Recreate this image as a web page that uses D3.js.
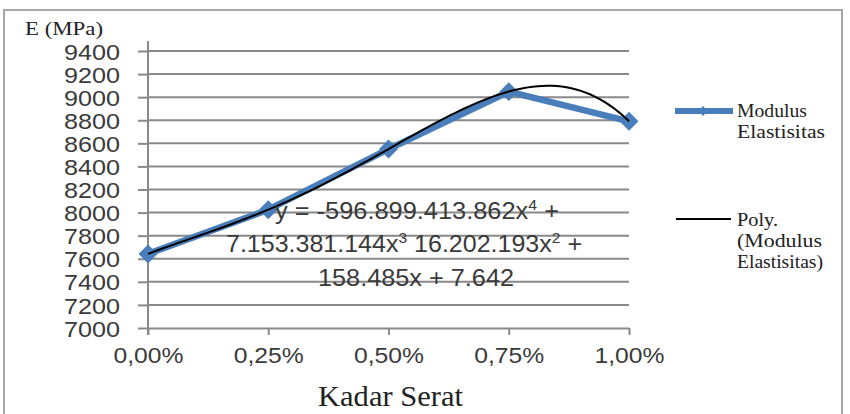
<!DOCTYPE html>
<html lang="en">
<head>
    <meta charset="UTF-8">
    <title>Modulus Elastisitas</title>
    <style>
        body { margin: 0; background: #fff; }
    </style>
</head>
<body>
    <script src="https://d3js.org/d3.v7.min.js"></script>
    <div id="chart"></div>
    <script>
    // data
    const categories = ["0,00%", "0,25%", "0,50%", "0,75%", "1,00%"]
    const fiberContent = [0, 0.0025, 0.005, 0.0075, 0.01]
    const modulus = [7642, 8025, 8550, 9048, 8791]
    const yTicks = [7000, 7200, 7400, 7600, 7800, 8000, 8200, 8400, 8600, 8800, 9000, 9200, 9400]
    // poly trendline coefficients (c0 + c1 x + c2 x^2 + ...), from the equation shown
    const polyCoef = [7642, 158485, -16202193, 7153381144, -596899413862]
    // equation text split in pieces, ^ marks a superscript piece
    const equationLines = [
        ["y = -596.899.413.862x", "^4", " +"],
        ["7.153.381.144x", "^3", "  16.202.193x", "^2", " +"],
        ["158.485x + 7.642"]
    ]
    const legendLabels = [["Modulus", "Elastisitas"], ["Poly.", "(Modulus", "Elastisitas)"]]

    const W = 850, H = 414
    const GRID = "#898989"
    const BLUE = "#4a7ebb"
    const SANS = "'Liberation Sans', Arial, sans-serif"
    const SERIF = "'Liberation Serif', 'Times New Roman', serif"

    const svg = d3.select("#chart")
        .append("svg")
        .attr("width", W)
        .attr("height", H)

    // outer chart border
    svg.append("rect")
        .attr("x", 4).attr("y", 10)
        .attr("width", 838).attr("height", 430)
        .style("fill", "none")
        .style("stroke", "#a6a6a6")
        .style("stroke-width", 2)

    const x = d3.scaleLinear().domain([0, 0.01]).range([148, 629])
    const y = d3.scaleLinear().domain([7000, 9400]).range([328, 51])

    // horizontal gridlines
    svg.append("g")
        .selectAll("line")
        .data(yTicks.slice(1))
        .join("line")
        .attr("x1", x(0)).attr("x2", x(0.01))
        .attr("y1", d => y(d)).attr("y2", d => y(d))
        .style("stroke", GRID)
        .style("stroke-width", 2)

    // y axis
    const yAxis = svg.append("g")
        .attr("transform", `translate(${x(0)},0)`)
        .call(d3.axisLeft(y).tickValues(yTicks).tickSize(10).tickSizeOuter(0)
            .tickFormat(d3.format("d")))
    yAxis.select(".domain").remove()
    yAxis.selectAll(".tick line").style("stroke", GRID).style("stroke-width", 2)
    yAxis.selectAll(".tick text")
        .attr("x", -28)
        .attr("dy", "0.36em")
        .attr("textLength", 56)
        .attr("lengthAdjust", "spacingAndGlyphs")
        .style("font-family", SANS)
        .style("font-size", "22.5px")
        .style("fill", "#3a3a3a")
    yAxis.append("line")
        .attr("x1", 0).attr("x2", 0)
        .attr("y1", 41).attr("y2", 335)
        .style("stroke", GRID)
        .style("stroke-width", 2)

    // x axis
    const xAxis = svg.append("g")
        .attr("transform", `translate(0,${y(7000)})`)
        .call(d3.axisBottom(x).tickValues(fiberContent).tickSize(7).tickSizeOuter(0)
            .tickFormat((d, i) => categories[i]))
    xAxis.select(".domain").style("stroke", GRID).style("stroke-width", 2)
    xAxis.selectAll(".tick line").style("stroke", GRID).style("stroke-width", 2)
    xAxis.selectAll(".tick text")
        .attr("y", 35)
        .attr("dy", 0)
        .attr("textLength", 70)
        .attr("lengthAdjust", "spacingAndGlyphs")
        .style("font-family", SANS)
        .style("font-size", "22px")
        .style("fill", "#3a3a3a")

    // axis titles
    svg.append("text")
        .attr("x", 25).attr("y", 35)
        .attr("textLength", 78)
        .attr("lengthAdjust", "spacingAndGlyphs")
        .style("font-family", SERIF)
        .style("font-size", "18px")
        .style("fill", "#222")
        .text("E (MPa)")

    svg.append("text")
        .attr("x", 318).attr("y", 406)
        .attr("textLength", 145)
        .attr("lengthAdjust", "spacingAndGlyphs")
        .style("font-family", SERIF)
        .style("font-size", "29px")
        .style("fill", "#222")
        .text("Kadar Serat")

    // data series
    const pts = fiberContent.map((f, i) => [f, modulus[i]])
    svg.append("path")
        .datum(pts)
        .attr("d", d3.line().x(d => x(d[0])).y(d => y(d[1])))
        .style("fill", "none")
        .style("stroke", BLUE)
        .style("stroke-width", 6.5)
        .style("stroke-linejoin", "round")

    const diamond = d3.symbol(d3.symbolSquare, 180)
    svg.append("g")
        .selectAll("path")
        .data(pts)
        .join("path")
        .attr("d", diamond)
        .attr("transform", d => `translate(${x(d[0])},${y(d[1])}) rotate(45)`)
        .style("fill", BLUE)

    // polynomial trendline
    const poly = v => polyCoef.reduce((s, c, k) => s + c * Math.pow(v, k), 0)
    const trendX = d3.range(0, 0.01 + 1e-9, 0.0001)
    svg.append("path")
        .datum(trendX)
        .attr("d", d3.line().x(d => x(d)).y(d => y(poly(d))))
        .style("fill", "none")
        .style("stroke", "#000")
        .style("stroke-width", 2)

    // trendline equation label
    const eqPos = [[275, 219, 284], [226, 252, 356], [318, 286, 196]]
    const eq = svg.append("g")
    equationLines.forEach((parts, i) => {
        const t = eq.append("text")
            .attr("x", eqPos[i][0])
            .attr("y", eqPos[i][1])
            .attr("textLength", eqPos[i][2])
            .attr("lengthAdjust", "spacingAndGlyphs")
            .style("font-family", SANS)
            .style("font-size", "24px")
            .style("fill", "#3a3a3a")
        parts.forEach(p => {
            const sup = p.startsWith("^")
            t.append("tspan")
                .attr("dy", sup ? -9 : (t.selectAll("tspan").size() ? 9 : 0))
                .style("font-size", sup ? "15px" : null)
                .text(sup ? p.slice(1) : p)
        })
        // first tspan never shifts
        t.select("tspan").attr("dy", 0)
    })

    // legend
    const leg = svg.append("g")
    leg.append("line")
        .attr("x1", 675).attr("x2", 733).attr("y1", 111).attr("y2", 111)
        .style("stroke", BLUE).style("stroke-width", 6)
    leg.append("path")
        .attr("d", d3.symbol(d3.symbolSquare, 50))
        .attr("transform", "translate(703,111) rotate(45)")
        .style("fill", BLUE)
    leg.append("line")
        .attr("x1", 676).attr("x2", 731).attr("y1", 219).attr("y2", 219)
        .style("stroke", "#000").style("stroke-width", 2)

    const legText = [
        { y: [117, 138], w: [70, 88] },
        { y: [226, 247, 268], w: [41, 85, 86] }
    ]
    legendLabels.forEach((lines, j) => {
        lines.forEach((t, k) => {
            leg.append("text")
                .attr("x", 737)
                .attr("y", legText[j].y[k])
                .attr("textLength", legText[j].w[k])
                .attr("lengthAdjust", "spacingAndGlyphs")
                .style("font-family", SERIF)
                .style("font-size", "18px")
                .style("fill", "#222")
                .text(t)
        })
    })
    </script>
</body>
</html>
